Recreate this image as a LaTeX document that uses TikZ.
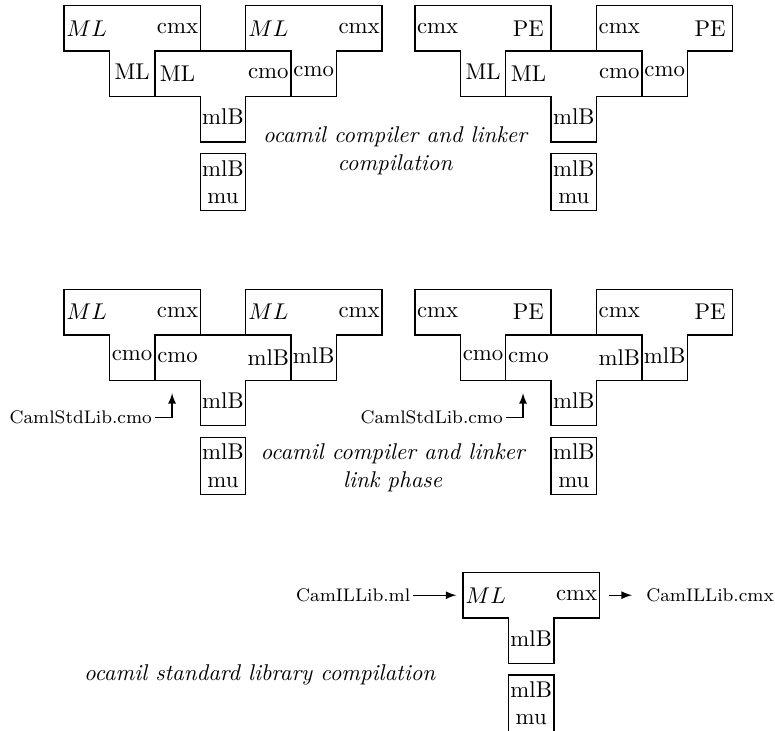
\documentclass[tikz,border=0pt]{standalone}
\begin{document}
\begin{tikzpicture}[x=0.7cm,y=0.7cm,line width=0.6pt,
		lab/.style={inner sep=0pt},
		machine/.style={draw,align=center,minimum width=0.7cm,inner xsep=0.6pt,inner ysep=3pt,anchor=north},
		caption/.style={align=center,font=\itshape},
		file/.style={font=\footnotesize,inner sep=1pt}]
				\useasboundingbox (0,0) rectangle (17.07,-16.10); % Fixes the page
				
				\foreach \xx/\yy/\src/\tgt/\impl/\nm in {% x / y / left / right / stem / name
					1.41/-0.125/$ML$/cmx/ML/ta, 3.41/-1.125/ML/cmo/mlB/tb, 5.41/-0.125/$ML$/cmx/cmo/tc,
					9.14/-0.125/cmx/PE/ML/td, 11.14/-1.125/ML/cmo/mlB/te, 13.14/-0.125/cmx/PE/cmo/tf,
					1.41/-6.375/$ML$/cmx/cmo/tg, 3.41/-7.375/cmo/mlB/mlB/th, 5.41/-6.375/$ML$/cmx/mlB/ti,
					9.14/-6.375/cmx/PE/cmo/tj, 11.14/-7.375/cmo/mlB/mlB/tk, 13.14/-6.375/cmx/PE/mlB/tl,
					10.2/-12.61/$ML$/cmx/mlB/tm}{%
					\draw (\xx,\yy) -- ++(3,0) -- ++(0,-1) -- ++(-1,0) -- ++(0,-1)
					-- ++(-1,0) -- ++(0,1) -- ++(-1,0) -- cycle; % One T per compiler
					\node[lab] (\nm-l) at (\xx+0.5,\yy-0.5) {\src};
					\node[lab] (\nm-r) at (\xx+2.5,\yy-0.5) {\tgt};
					\node[lab] (\nm-b) at (\xx+1.5,\yy-1.45) {\impl};
				}
				\foreach \xx/\yy/\nm in {4.91/-3.365/ma, 12.64/-3.365/mb,
					4.91/-9.615/mc, 12.64/-9.615/md, 11.7/-14.85/me}{% The machines
					\node[machine] (\nm) at (\xx,\yy) {mlB\\mu};
				}
				
				\node[caption] (capa) at (8.7,-3.32) {ocamil compiler and linker\\compilation};
				\node[caption] (capb) at (8.65,-10.3) {ocamil compiler and linker\\link phase};
				\node[caption] (capc) at (5.72,-14.87) {ocamil standard library compilation};
				
				\node[file,anchor=east] (libA) at (3.41,-9.2) {CamlStdLib.cmo};
				\coordinate (libAtip) at (3.79,-8.66);
				\draw [-latex] (libA) -| (libAtip);
				\node[file,anchor=east] (libB) at (11.14,-9.2) {CamlStdLib.cmo};
				\coordinate (libBtip) at (11.52,-8.66);
				\draw [-latex] (libB) -| (libBtip);
				
				\node[file,anchor=east] (mlin) at (9.1,-13.11) {CamILLib.ml};
				\coordinate (tmin) at (10.05,-13.11);
				\draw [-latex] (mlin) -- (tmin);
				\coordinate (tmout) at (13.42,-13.11);
				\node[file,anchor=west] (cmxout) at (14.17,-13.11) {CamILLib.cmx};
				\draw [-latex,shorten >=5pt] (tmout) -- (cmxout);
		\end{tikzpicture}
\end{document}
